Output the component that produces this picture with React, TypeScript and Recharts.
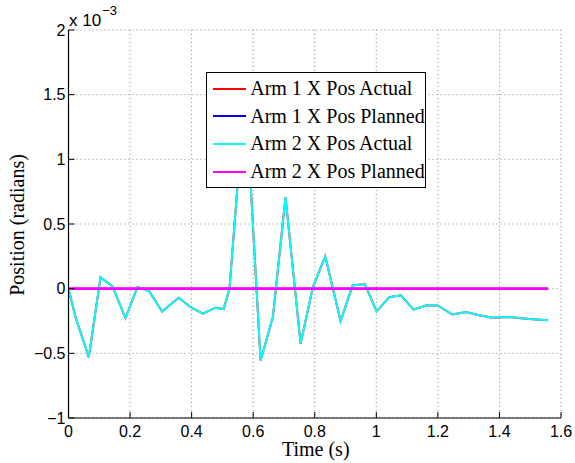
import React from 'react';
import { LineChart, Line, XAxis, YAxis, CartesianGrid, Legend } from 'recharts';

// time samples (s)
const timeS = [0, 0.024, 0.066, 0.104, 0.143, 0.185, 0.224, 0.262, 0.304, 0.358, 0.399, 0.437, 0.477, 0.504, 0.523, 0.574, 0.624, 0.664, 0.705, 0.754, 0.794, 0.834, 0.884, 0.923, 0.963, 1.001, 1.042, 1.08, 1.121, 1.161, 1.199, 1.247, 1.291, 1.334, 1.377, 1.431, 1.496, 1.558];
// positions in units of 1e-3 radians
const arm2Actual = [0, -0.23, -0.53, 0.087, 0.018, -0.227, 0.012, -0.019, -0.176, -0.07, -0.147, -0.193, -0.147, -0.158, 0, 1.55, -0.555, -0.22, 0.708, -0.425, 0.012, 0.25, -0.25, 0.026, 0.033, -0.176, -0.065, -0.052, -0.162, -0.13, -0.13, -0.2, -0.18, -0.206, -0.224, -0.22, -0.235, -0.245];
const arm1Actual = arm2Actual;
const arm1Planned = timeS.map(() => 0);
const arm2Planned = timeS.map(() => 0);

const seriesNames = ['Arm 1 X Pos Actual', 'Arm 1 X Pos Planned', 'Arm 2 X Pos Actual', 'Arm 2 X Pos Planned'];
const seriesKeys = ['a1a', 'a1p', 'a2a', 'a2p'];
const seriesColors = ['#ff0000', '#0000ff', '#00ffff', '#ff00ff'];
const seriesWidths = [2, 2, 2, 2.6];

const xTicks = [0, 0.2, 0.4, 0.6, 0.8, 1, 1.2, 1.4, 1.6];
const yTicks = [-1, -0.5, 0, 0.5, 1, 1.5, 2];

const data = timeS.map((t, i) => ({
  t,
  a1a: arm1Actual[i],
  a1p: arm1Planned[i],
  a2a: arm2Actual[i],
  a2p: arm2Planned[i],
}));

const fmtY = (v: number) => (v < 0 ? '\u2212' + String(-v) : String(v));
const fmtX = (v: number) => String(v);

const tickStyle = { fontFamily: 'Liberation Sans, Arial, sans-serif', fontSize: 16, fill: '#000' };

const LegendBox = () => {
  const rowCenters = [16.6, 44.2, 71.8, 99.4];
  return (
    <div style={{ position: 'relative', width: 220, height: 116, boxSizing: 'border-box', border: '1px solid #000', background: '#fff' }}>
      {seriesNames.map((name, i) => (
        <React.Fragment key={name}>
          <div style={{ position: 'absolute', left: 6, top: rowCenters[i] - 1.5, width: 33, height: 2, background: seriesColors[i] }} />
          <div style={{ position: 'absolute', left: 43.5, top: rowCenters[i] - 13, height: 24, lineHeight: '24px', fontFamily: 'Liberation Serif, Times New Roman, serif', fontSize: 20, color: '#000', whiteSpace: 'nowrap' }}>{name}</div>
        </React.Fragment>
      ))}
    </div>
  );
};

const YLabel = () => {
  const cx = 24;
  const cy = 225;
  return (
    <g>
      <text x={cx} y={cy} transform={`rotate(-90 ${cx} ${cy})`} textAnchor="middle" fontFamily="Liberation Serif, Times New Roman, serif" fontSize={20} fill="#000">Position (radians)</text>
      <text x={69} y={25.5} fontFamily="Liberation Sans, Arial, sans-serif" fontSize={17} fill="#000">
        x 10
        <tspan dx={1} dy={-11} fontSize={13}>{'\u22123'}</tspan>
      </text>
    </g>
  );
};

const XLabel = (props: any) => {
  const vb = props.viewBox || {};
  return (
    <text x={(vb.x ?? 0) + (vb.width ?? 0) / 2 + 1} y={(vb.y ?? 418) + 37.5} textAnchor="middle" fontFamily="Liberation Serif, Times New Roman, serif" fontSize={20} fill="#000">Time (s)</text>
  );
};

export default function App() {
  return (
    <div style={{ position: 'absolute', left: 0, top: 0, width: 575, height: 463, background: '#fff' }}>
      <LineChart width={575} height={463} data={data} margin={{ top: 30, right: 14, bottom: 0, left: 0 }}>
        <CartesianGrid stroke="#8a8a8a" strokeDasharray="1 3" strokeWidth={1} />
        <XAxis
          dataKey="t"
          type="number"
          domain={[0, 1.6]}
          ticks={xTicks}
          tickFormatter={fmtX}
          height={45}
          tickSize={-6}
          tickMargin={13.9}
          tick={tickStyle}
          axisLine={{ stroke: '#000', strokeWidth: 1.2 }}
          tickLine={{ stroke: '#000' }}
          interval={0}
          allowDataOverflow
          label={<XLabel />}
        />
        <XAxis
          xAxisId="top"
          orientation="top"
          dataKey="t"
          type="number"
          domain={[0, 1.6]}
          ticks={xTicks}
          height={0}
          tickSize={-6}
          tick={false}
          axisLine={{ stroke: '#000', strokeWidth: 1.2 }}
          tickLine={{ stroke: '#000' }}
          interval={0}
          allowDataOverflow
        />
        <YAxis
          type="number"
          domain={[-1, 2]}
          ticks={yTicks}
          tickFormatter={fmtY}
          width={68.5}
          tickSize={-6}
          tickMargin={9}
          tick={tickStyle}
          axisLine={{ stroke: '#000', strokeWidth: 1.2 }}
          tickLine={{ stroke: '#000' }}
          interval={0}
          allowDataOverflow
          label={<YLabel />}
        />
        <YAxis
          yAxisId="right"
          orientation="right"
          type="number"
          domain={[-1, 2]}
          ticks={yTicks}
          width={0}
          tickSize={-6}
          tick={false}
          axisLine={{ stroke: '#000', strokeWidth: 1.2 }}
          tickLine={{ stroke: '#000' }}
          interval={0}
          allowDataOverflow
        />
        {seriesKeys.map((k, i) => (
          <Line key={k} type="linear" dataKey={k} name={seriesNames[i]} stroke={seriesColors[i]} strokeWidth={seriesWidths[i]} dot={false} activeDot={false} isAnimationActive={false} />
        ))}
        <Legend layout="vertical" align="center" verticalAlign="middle" wrapperStyle={{ left: 205.7, top: 71.7, width: 220, height: 116 }} content={<LegendBox />} />
      </LineChart>
    </div>
  );
}
